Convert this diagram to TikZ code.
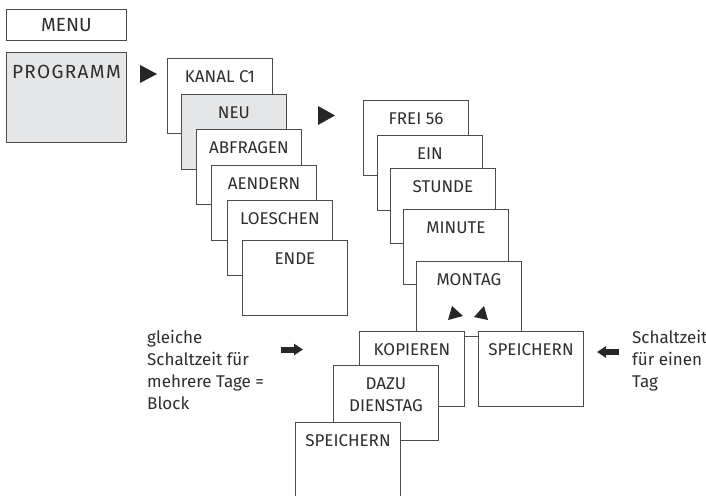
\documentclass[tikz,border=0pt]{standalone}
\usepackage{fontspec}
\setmainfont{Fira Sans}
\usetikzlibrary{arrows.meta,positioning}

\definecolor{boxgray}{RGB}{229,230,232}
\definecolor{linegray}{RGB}{75,75,75}
\definecolor{textgray}{RGB}{45,45,45}

\tikzset{
  boxbase/.style={draw=linegray,fill=white,line width=0.9pt,anchor=north west,
    inner sep=0pt,align=center},
  menubox/.style={boxbase,minimum width=105pt,text height=24pt,text depth=51pt},
  selbox/.style={menubox,fill=boxgray},
  sidetext/.style={anchor=north west,inner sep=0pt,align=left},
  tip/.style={fill=black!85},
  blockarrow/.style={line width=6pt,black!85,-{Triangle[length=9pt,width=11pt]}}
}

\begin{document}
\begin{tikzpicture}[x=1pt,y=-1pt,font=\fontsize{17}{22}\selectfont,text=textgray]
  \useasboundingbox (0,0) rectangle (706,495);

  % main menu
  \node[boxbase,minimum width=120pt,minimum height=31pt,text height=13pt,text depth=0pt,
    font=\fontsize{19}{22}\selectfont]
    (menu) at (6,9) {MENU};
  \node[boxbase,fill=boxgray,minimum width=120pt,text height=26pt,text depth=64pt,
    font=\fontsize{19}{22}\selectfont\addfontfeature{LetterSpace=7}]
    (programm) at (6,52) {PROGRAMM};

  % channel menu
  \node[menubox] (kanal) at (167,58) {KANAL C1};
  \node[selbox]  (neu)      [below right=36pt and 14pt of kanal.north west] {NEU};
  \node[menubox] (abfragen) [below right=35pt and 15pt of neu.north west]   {ABFRAGEN};
  \node[menubox] (aendern)  [below right=36pt and 15pt of abfragen.north west] {AENDERN};
  \node[menubox] (loeschen) [below right=35pt and 16pt of aendern.north west] {LOESCHEN};
  \node[menubox] (ende)     [below right=40pt and 15pt of loeschen.north west] {ENDE};

  % new switching time
  \node[menubox] (frei) at (363,100) {FREI 56};
  \node[menubox] (ein)    [below right=35pt and 14pt of frei.north west]   {EIN};
  \node[menubox] (stunde) [below right=33pt and 13pt of ein.north west]    {STUNDE};
  \node[menubox] (minute) [below right=41pt and 13pt of stunde.north west] {MINUTE};
  \node[menubox] (montag) [below right=52pt and 13pt of minute.north west] {MONTAG};

  % save or copy
  \node[menubox] (kopieren)   [below right=70pt and -57pt of montag.north west] {KOPIEREN};
  \node[menubox] (speichern)  [below right=70pt and 62pt of montag.north west]  {SPEICHERN};
  \node[menubox,text height=46pt,text depth=29pt]
    (dazu) [below right=34pt and -26pt of kopieren.north west] {DAZU\\DIENSTAG};
  \node[menubox] (speichernb) [below right=57pt and -38pt of dazu.north west]   {SPEICHERN};

  % selection arrows
  \fill[tip] (140,65) -- (140,83) -- (157,74) -- cycle;
  \fill[tip] (318,106) -- (318,125) -- (335,115.5) -- cycle;
  \fill[tip] (448,320) -- (452,306) -- (463,316) -- cycle;
  \fill[tip] (474,317) -- (484,306) -- (488,320) -- cycle;

  % notes
  \node[sidetext] (block) at (147,330) {gleiche\\Schaltzeit für\\mehrere Tage =\\Block};
  \node[sidetext] (tag) at (632,330) {Schaltzeit\\für einen\\Tag};
  \draw[blockarrow] (281,349.5) -- (303,349.5);
  \draw[blockarrow] (619,352) -- (597,352);
\end{tikzpicture}
\end{document}
